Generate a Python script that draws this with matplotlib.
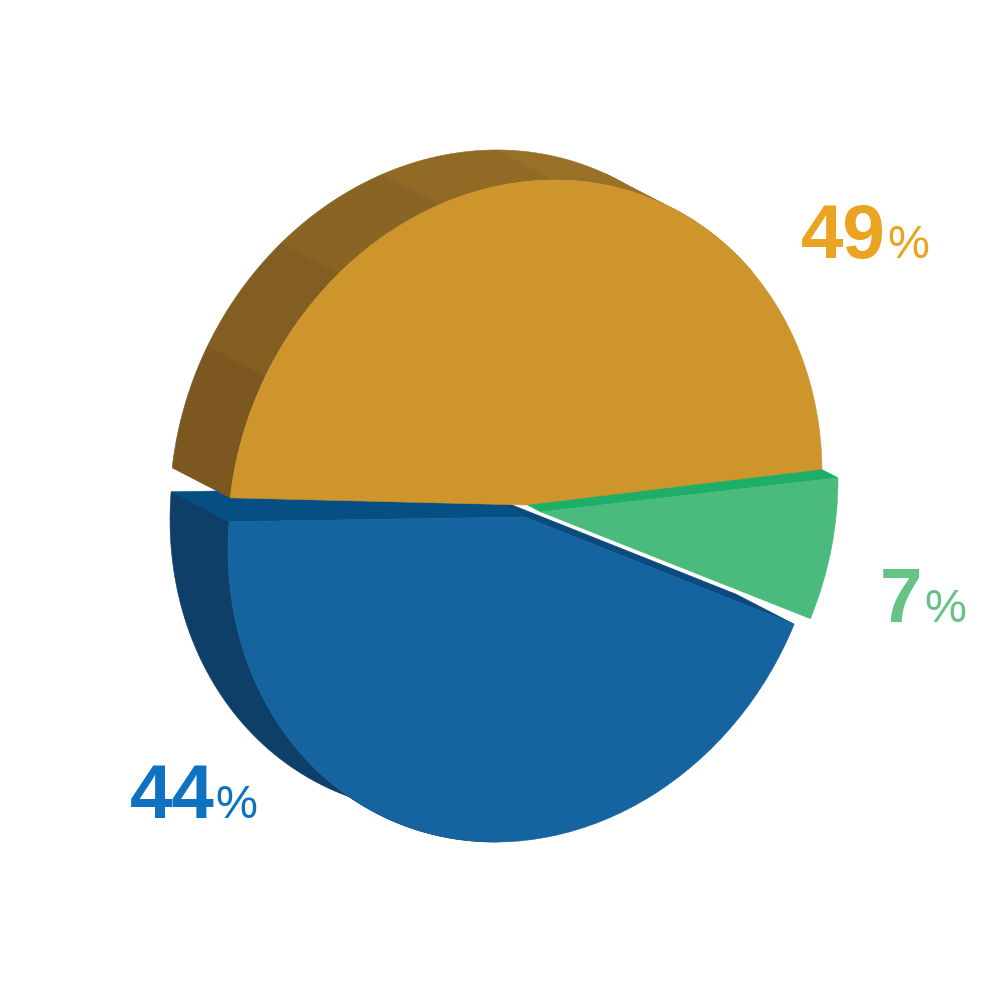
import numpy as np
import matplotlib
matplotlib.use("Agg")
from matplotlib import pyplot as plt
from matplotlib.patches import Wedge
from matplotlib.transforms import Affine2D

labels = ["49", "44", "7"]
# slice angles as drawn in the picture, in degrees on the tilted disc
sweeps = [172.4, 159.9, 25.2]
starts = [0.6, 175.1, 335.1]

face_colors = ["#CD952B", "#15639F", "#4ABB7C"]
text_colors = ["#EBA421", "#0F72C0", "#67C385"]
gold_wall = ["#A0742A", "#997028", "#916A26", "#8A6424", "#835E22", "#7C5820"]

# pixel layout of the tilted disc
RX, SKEW, RY = 297, 32.5, 323.4
DEPTH = (-58, -30)
centers = [(525, 505), (525, 517), (541, 512)]
label_pos = [(801, 258), (130, 818), (880, 622)]
pct_pos = [(887, 258), (215, 818), (924, 622)]

fig = plt.figure(figsize=(10, 10), dpi=100)
ax = fig.add_axes([0, 0, 1, 1])
ax.set_xlim(0, 1000)
ax.set_ylim(1000, 0)
ax.axis("off")

def rim(center, t, shift=(0, 0)):
	t = np.radians(t)
	x = center[0] + RX * np.cos(t) + shift[0]
	y = center[1] - SKEW * np.cos(t) - RY * np.sin(t) + shift[1]
	return x, y

def quad(p1, p2, color, z):
	# side wall between two front points, pushed back along DEPTH
	xs = [p1[0], p2[0], p2[0] + DEPTH[0], p1[0] + DEPTH[0]]
	ys = [p1[1], p2[1], p2[1] + DEPTH[1], p1[1] + DEPTH[1]]
	ax.fill(xs, ys, color=color, lw=0.4, zorder=z)

def wall(center, t1, t2, color, z):
	ts = np.linspace(t1, t2, 60)
	x, y = rim(center, ts)
	bx, by = rim(center, ts, DEPTH)
	ax.fill(np.r_[x, bx[::-1]], np.r_[y, by[::-1]], color=color, lw=0.4, zorder=z)

def face(center, t1, t2, color, z):
	tr = Affine2D.from_values(RX, -SKEW, 0, -RY, center[0], center[1])
	ax.add_patch(Wedge((0, 0), 1, t1, t2, transform=tr + ax.transData, fc=color, ec=color, lw=0.4, zorder=z))

g1, g2 = starts[0], starts[0] + sweeps[0]
b1, b2 = starts[1], starts[1] + sweeps[1]
n1, n2 = starts[2], starts[2] + sweeps[2]

# green slice, its cut edge shows as a thin strip
quad(centers[2], rim(centers[2], n2), "#1DAF68", 1)
face(centers[2], n1, n2, face_colors[2], 2)

# blue slice
quad(centers[1], rim(centers[1], b1), "#054F85", 3)
wall(centers[1], b1, b1 + 90, "#0D3F69", 3)
quad(centers[1], rim(centers[1], b2), "#0A4A7C", 4)
face(centers[1], b1, b2, face_colors[1], 5)

# gold slice, back wall in darkening facets
steps = np.linspace(40, g2, len(gold_wall) + 1)
for i, c in enumerate(gold_wall):
	wall(centers[0], steps[i], steps[i + 1], c, 6)
face(centers[0], g1, g2, face_colors[0], 7)

for i, lab in enumerate(labels):
	ax.text(label_pos[i][0], label_pos[i][1], lab, family="Liberation Sans", weight="bold", fontsize=55,
		color=text_colors[i], ha="left", va="baseline")
	ax.text(pct_pos[i][0], pct_pos[i][1], "%", family="Liberation Sans", fontsize=34,
		color=text_colors[i], ha="left", va="baseline")

fig.savefig("out.png", dpi=100, facecolor="white")
